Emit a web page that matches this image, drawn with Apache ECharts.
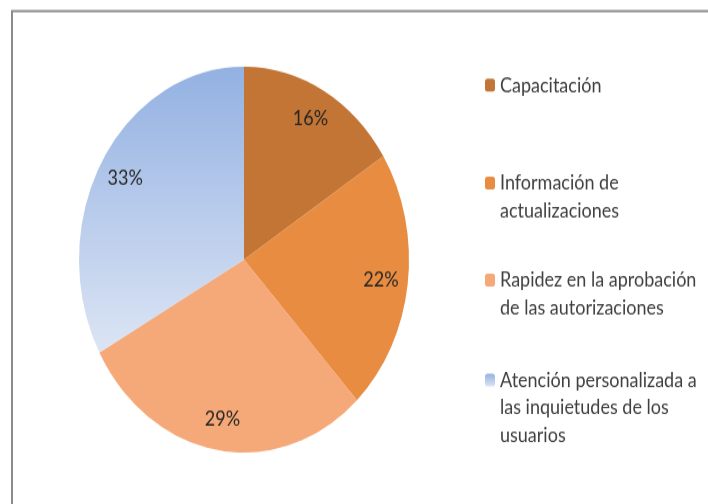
<!DOCTYPE html>
<html>
<head>
<meta charset="utf-8">
<script src="https://cdn.jsdelivr.net/npm/echarts@6/dist/echarts.min.js"></script>
<style>
  html, body { margin: 0; padding: 0; background: #fff; }
  body { width: 708px; height: 504px; overflow: hidden; }
  /* the reference is stretched vertically, so draw at 431px and scale up */
  #chart { width: 708px; height: 431px; transform: scaleY(1.1694); transform-origin: 0 0; }
</style>
</head>
<body>
<div id="chart"></div>
<script>
const categories = [
    'Capacitación',
    'Información de\nactualizaciones',
    'Rapidez en la aprobación\nde las autorizaciones',
    'Atención personalizada a\nlas inquietudes de los\nusuarios',
];
const percents = [16, 22, 29, 33];
const sliceColors = [
    '#C27535',
    '#E88C42',
    '#F5A878',
    new echarts.graphic.LinearGradient(0, 0, 0, 1, [
        { offset: 0, color: '#93B1E2' },
        { offset: 1, color: '#DCE5F4' },
    ]),
];
// y of the first text line of each legend entry (unscaled px)
const legendLineY = [72.7, 156.5, 239.5, 325];

const FONT = 'Lato, "Open Sans", sans-serif';
const LINE_H = 23.5;
const CENTER = [244, 222];

const chart = echarts.init(document.getElementById('chart'), null, { renderer: 'canvas' });

const pieData = categories.map((name, i) => ({
    name,
    value: percents[i],
    itemStyle: { color: sliceColors[i] },
}));

// one legend per entry; blank lines on top keep the icon on the first text line
const legends = categories.map((name, i) => {
    const lines = name.split('\n').length;
    return {
        orient: 'vertical',
        left: 485,
        top: legendLineY[i] - (2 * lines - 1) * LINE_H / 2,
        padding: 0,
        itemWidth: 10,
        itemHeight: 11,
        selectedMode: false,
        data: [name],
        formatter: (n) => '\n'.repeat(lines - 1) + n,
        textStyle: {
            fontFamily: FONT,
            fontSize: 18,
            color: '#404040',
            lineHeight: LINE_H,
        },
    };
});

chart.setOption({
    animation: false,
    backgroundColor: '#fff',
    graphic: [{
        type: 'rect',
        z: -1,
        shape: { x: 12, y: 9.5, width: 760, height: 560 },
        style: { fill: 'none', stroke: '#8C8C8C', lineWidth: 2 },
    }],
    legend: legends,
    series: [
        {
            type: 'pie',
            center: CENTER,
            radius: [0, 165],
            startAngle: 90,
            clockwise: true,
            label: { show: false },
            labelLine: { show: false },
            itemStyle: { borderWidth: 0 },
            emphasis: { disabled: true },
            data: pieData,
        },
        {
            // transparent ring only used to place the percent labels further out
            type: 'pie',
            center: CENTER,
            radius: [105, 165],
            startAngle: 90,
            clockwise: true,
            silent: true,
            itemStyle: { color: 'rgba(0,0,0,0)', borderWidth: 0 },
            label: {
                show: true,
                position: 'inside',
                formatter: '{c}%',
                fontFamily: FONT,
                fontSize: 18,
                color: '#262626',
            },
            labelLine: { show: false },
            emphasis: { disabled: true },
            data: categories.map((name, i) => ({ name, value: percents[i] })),
        },
    ],
});
</script>
</body>
</html>
